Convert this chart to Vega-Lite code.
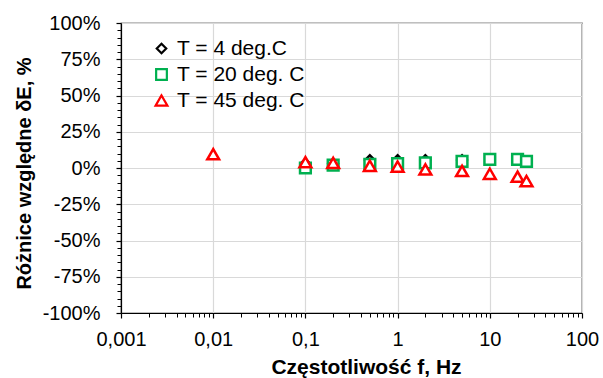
{
  "$schema": "https://vega.github.io/schema/vega-lite/v6.json",
  "width": 461,
  "height": 290,
  "autosize": {"type": "none"},
  "padding": {"left": 121, "top": 23, "right": 21, "bottom": 65},
  "background": "white",
  "config": {
    "font": "Liberation Sans",
    "view": {"stroke": "black", "strokeWidth": 1.2},
    "axis": {"labelFont": "Liberation Sans", "titleFont": "Liberation Sans", "labelColor": "black", "titleColor": "black"}
  },
  "data": {
    "values": [
      {"f": 0.1, "dE": 3, "T": "T = 4 deg.C"},
      {"f": 0.2, "dE": 3, "T": "T = 4 deg.C"},
      {"f": 0.5, "dE": 5.5, "T": "T = 4 deg.C"},
      {"f": 1, "dE": 5.5, "T": "T = 4 deg.C"},
      {"f": 2, "dE": 5.5, "T": "T = 4 deg.C"},
      {"f": 5, "dE": 5.5, "T": "T = 4 deg.C"},
      {"f": 0.1, "dE": 0, "T": "T = 20 deg. C"},
      {"f": 0.2, "dE": 2, "T": "T = 20 deg. C"},
      {"f": 0.5, "dE": 2.5, "T": "T = 20 deg. C"},
      {"f": 1, "dE": 3, "T": "T = 20 deg. C"},
      {"f": 2, "dE": 3.5, "T": "T = 20 deg. C"},
      {"f": 5, "dE": 4.5, "T": "T = 20 deg. C"},
      {"f": 10, "dE": 6, "T": "T = 20 deg. C"},
      {"f": 20, "dE": 6, "T": "T = 20 deg. C"},
      {"f": 25, "dE": 4.5, "T": "T = 20 deg. C"},
      {"f": 0.01, "dE": 9.5, "T": "T = 45 deg. C"},
      {"f": 0.1, "dE": 4, "T": "T = 45 deg. C"},
      {"f": 0.2, "dE": 3.5, "T": "T = 45 deg. C"},
      {"f": 0.5, "dE": 1.5, "T": "T = 45 deg. C"},
      {"f": 1, "dE": 1, "T": "T = 45 deg. C"},
      {"f": 2, "dE": -1, "T": "T = 45 deg. C"},
      {"f": 5, "dE": -2, "T": "T = 45 deg. C"},
      {"f": 10, "dE": -4, "T": "T = 45 deg. C"},
      {"f": 20, "dE": -6, "T": "T = 45 deg. C"},
      {"f": 25, "dE": -9, "T": "T = 45 deg. C"}
    ]
  },
  "resolve": {"axis": {"x": "independent", "y": "independent"}},
  "layer": [
    {
      "mark": {"type": "point", "opacity": 0},
      "encoding": {
        "x": {"field": "f", "type": "quantitative",
          "scale": {"type": "log", "domain": [0.001, 100], "nice": false},
          "axis": {"orient": "bottom", "values": [0.002,0.003,0.004,0.005,0.006,0.007,0.008,0.009,0.02,0.03,0.04,0.05,0.06,0.07,0.08,0.09,0.2,0.3,0.4,0.5,0.6,0.7,0.8,0.9,2,3,4,5,6,7,8,9,20,30,40,50,60,70,80,90],
            "labels": false, "grid": false, "domain": false, "title": null, "tickSize": 4, "tickColor": "black", "tickWidth": 1}},
        "y": {"field": "dE", "type": "quantitative",
          "scale": {"domain": [-100, 100], "nice": false},
          "axis": {"orient": "left", "values": [-95,-90,-85,-80,-70,-65,-60,-55,-45,-40,-35,-30,-20,-15,-10,-5,5,10,15,20,30,35,40,45,55,60,65,70,80,85,90,95],
            "labels": false, "grid": false, "domain": false, "title": null, "tickSize": 4, "tickColor": "black", "tickWidth": 1}}
      }
    },
    {
      "mark": {"type": "point", "filled": false, "fill": "white", "fillOpacity": 1, "strokeWidth": 2.5, "opacity": 1},
      "encoding": {
        "x": {"field": "f", "type": "quantitative",
          "scale": {"type": "log", "domain": [0.001, 100], "nice": false},
          "axis": {"orient": "bottom", "values": [0.001, 0.01, 0.1, 1, 10, 100],
            "labelExpr": "replace(toString(datum.value), '.', ',')",
            "labelFontSize": 20, "labelPadding": 11, "labelFlush": false,
            "grid": true, "gridColor": "#D9D9D9", "gridWidth": 1.2,
            "domainColor": "black", "domainWidth": 1.2, "tickColor": "black", "tickSize": 5, "tickWidth": 1.2,
            "title": "Częstotliwość f, Hz", "titleFontSize": 21, "titleFontWeight": "bold", "titlePadding": 7,
            "titleX": 245, "titleAlign": "center"}},
        "y": {"field": "dE", "type": "quantitative",
          "scale": {"domain": [-100, 100], "nice": false},
          "axis": {"orient": "left", "values": [-100, -75, -50, -25, 0, 25, 50, 75, 100],
            "labelExpr": "datum.value + '%'",
            "labelFontSize": 20, "labelPadding": 16,
            "grid": true, "gridColor": "#D9D9D9", "gridWidth": 1.2,
            "domainColor": "black", "domainWidth": 1.2, "tickColor": "black", "tickSize": 5, "tickWidth": 1.2,
            "title": "Różnice względne δE, %", "titleFontSize": 20, "titleFontWeight": "bold",
            "titleAngle": 270, "titleX": -97, "titleY": 150, "titleAlign": "center", "titleBaseline": "middle"}},
        "color": {"field": "T", "type": "nominal",
          "scale": {"domain": ["T = 4 deg.C", "T = 20 deg. C", "T = 45 deg. C"], "range": ["#000000", "#00B050", "#FF0000"]},
          "legend": {"title": null, "orient": "none", "legendX": 30, "legendY": 15,
            "labelFontSize": 21, "labelFont": "Liberation Sans", "labelColor": "black",
            "symbolStrokeWidth": 2.2, "symbolSize": 80, "symbolFillColor": "white", "rowPadding": 4, "labelOffset": 5, "padding": 0}},
        "shape": {"field": "T", "type": "nominal",
          "scale": {"domain": ["T = 4 deg.C", "T = 20 deg. C", "T = 45 deg. C"], "range": ["diamond", "square", "triangle-up"]}},
        "size": {"field": "T", "type": "nominal",
          "scale": {"domain": ["T = 4 deg.C", "T = 20 deg. C", "T = 45 deg. C"], "range": [90, 140, 185]},
          "legend": null}
      }
    }
  ]
}
